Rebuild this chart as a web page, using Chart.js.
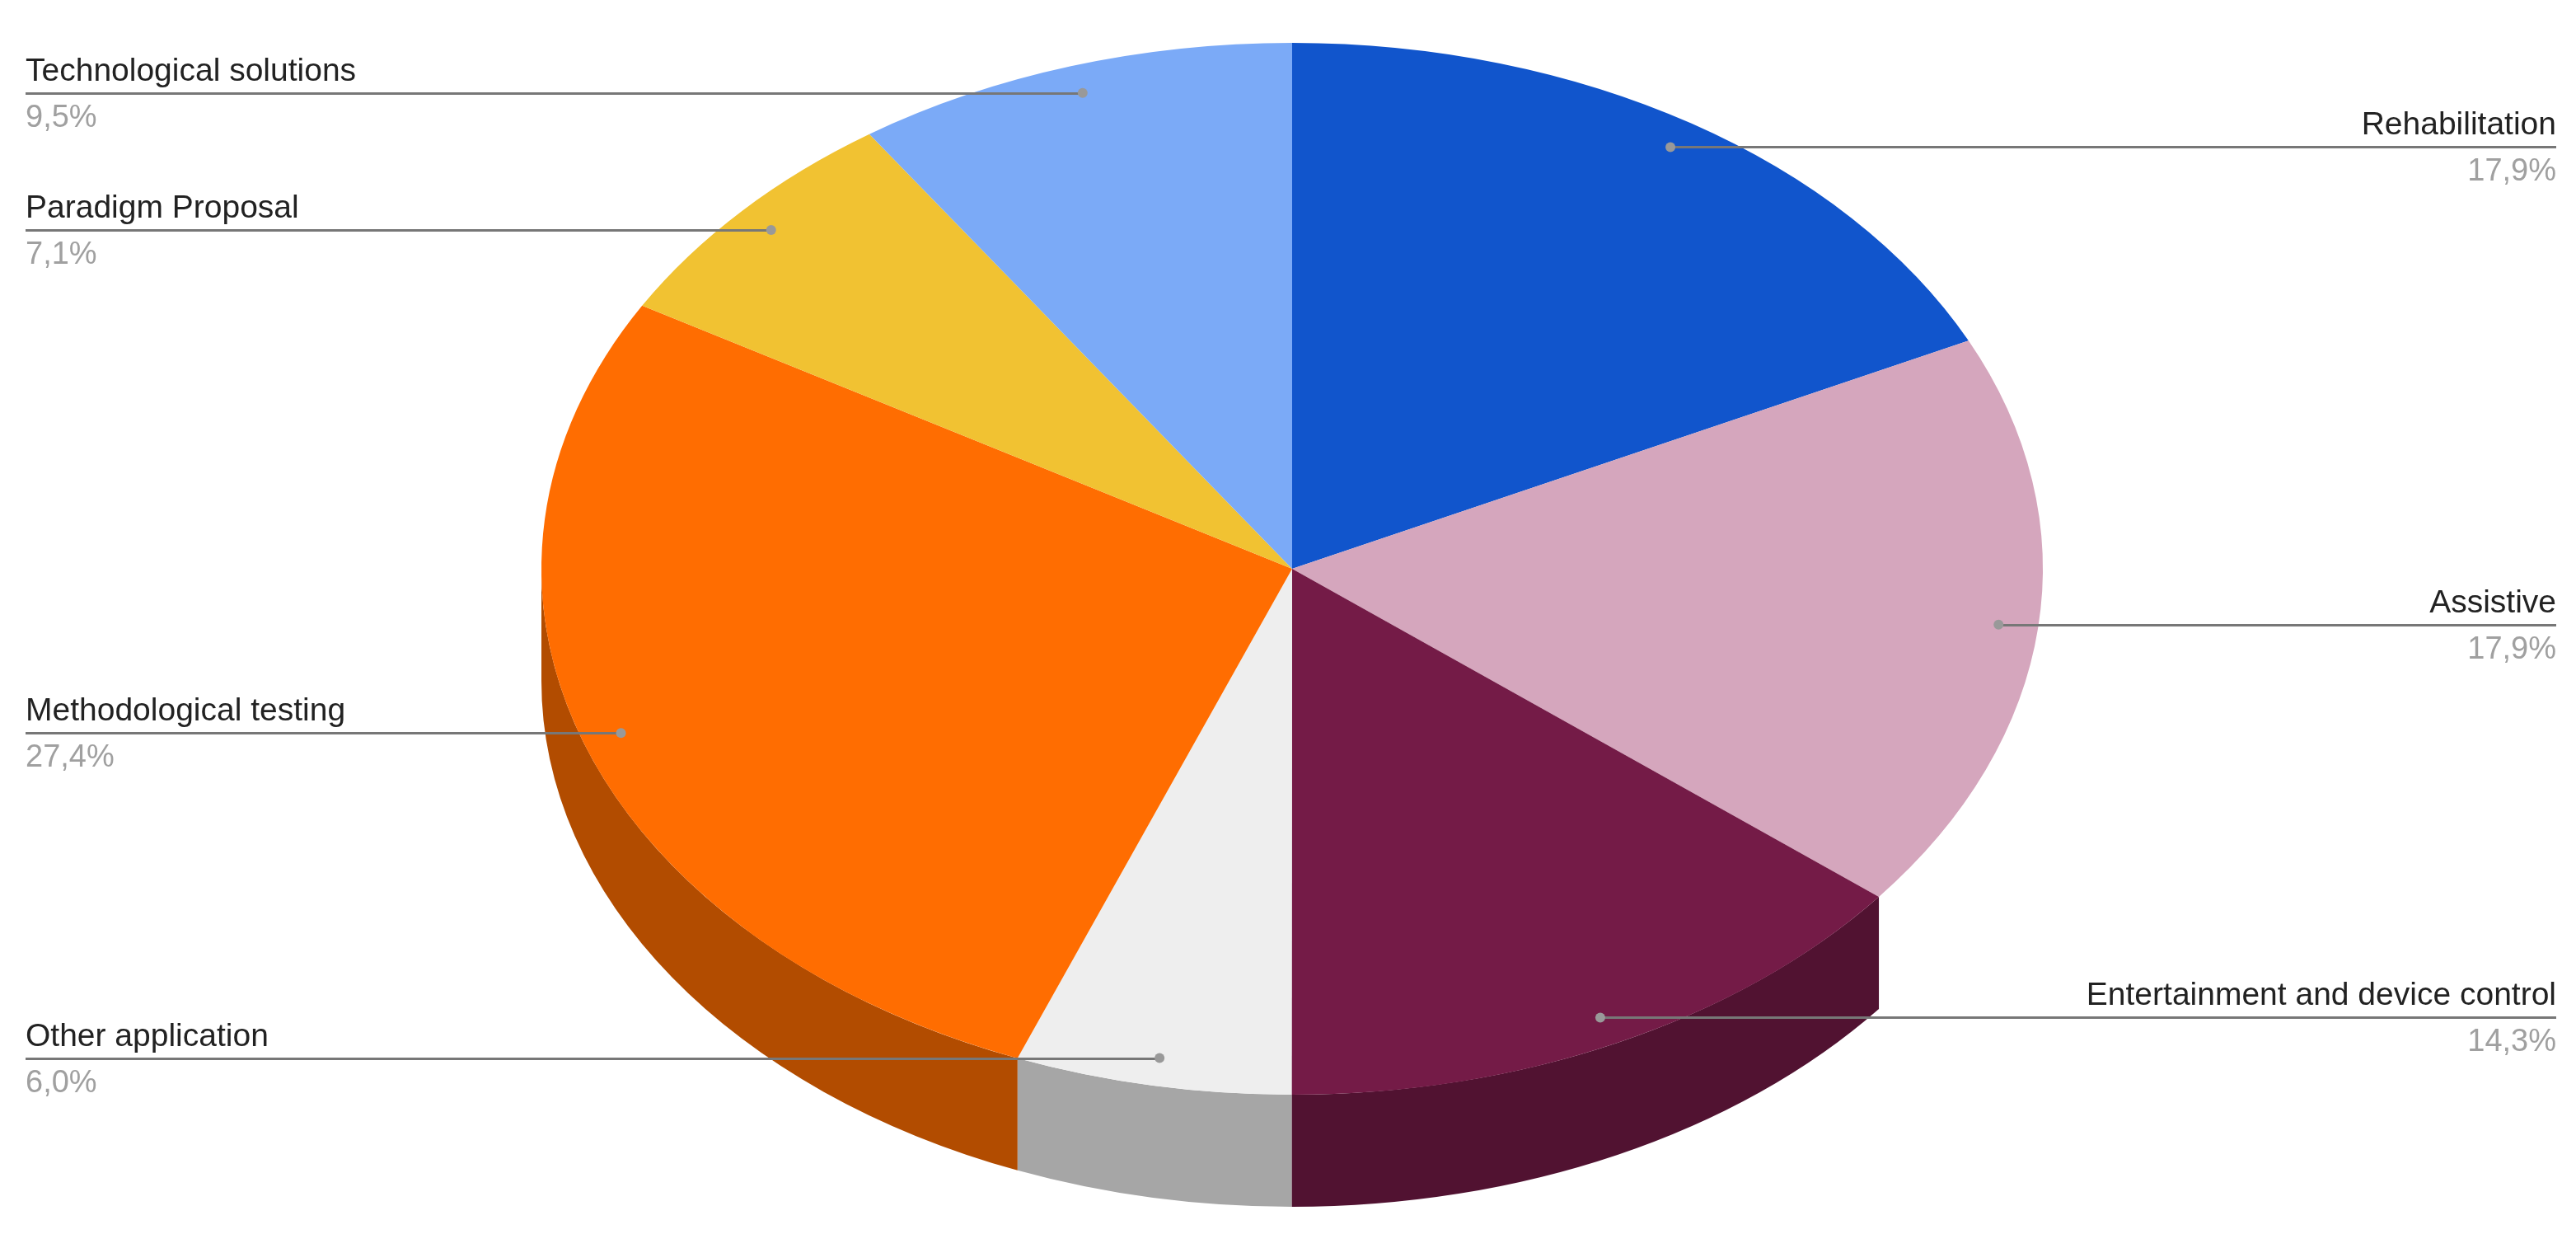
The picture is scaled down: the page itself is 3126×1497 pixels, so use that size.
<!DOCTYPE html>
<html>
<head>
<meta charset="utf-8">
<style>html,body{margin:0;padding:0;background:#fff}canvas{display:block}</style>
<script src="https://cdn.jsdelivr.net/npm/chart.js@4"></script>
</head>
<body>
<canvas id="c" width="3126" height="1497"></canvas>
<script>
const categories = ["Rehabilitation","Assistive","Entertainment and device control","Other application","Methodological testing","Paradigm Proposal","Technological solutions"];
const shares = [17.86,17.86,14.29,5.95,27.38,7.14,9.52];
const colors = ["#1155cc","#d5a6bd","#741b47","#eeeeee","#ff6d01","#f1c232","#7baaf7"];

const view = {cx:1568, cy:690, rx:911, ry:638, depth:136, dotRatio:0.947, leftX:31, rightX:3102};
const TAU = Math.PI*2;
function shade(hex){
  const n=parseInt(hex.slice(1),16);
  return `rgb(${((n>>16)&255)*.7|0},${((n>>8)&255)*.7|0},${(n&255)*.7|0})`;
}
const pie3d = {
  id:'pie3d',
  beforeDatasetsDraw(chart){
    const ctx=chart.ctx, arcs=chart.getDatasetMeta(0).data;
    arcs.forEach((a,i)=>{
      let s=a.startAngle, e=a.endAngle;
      while(s<0){s+=TAU;e+=TAU;}
      while(s>=TAU){s-=TAU;e-=TAU;}
      const from=Math.max(s,0), to=Math.min(e,Math.PI);
      if(to<=from) return;
      ctx.beginPath();
      ctx.ellipse(view.cx,view.cy,view.rx,view.ry,0,from,to,false);
      ctx.ellipse(view.cx,view.cy+view.depth,view.rx,view.ry,0,to,from,true);
      ctx.closePath();
      ctx.fillStyle=shade(colors[i]);
      ctx.fill();
    });
    const a=arcs[0];
    ctx.save();
    ctx.translate(view.cx,view.cy);
    ctx.scale(view.rx/a.outerRadius,view.ry/a.outerRadius);
    ctx.translate(-a.x,-a.y);
  },
  afterDatasetsDraw(chart){
    const ctx=chart.ctx, arcs=chart.getDatasetMeta(0).data;
    ctx.restore();
    arcs.forEach((a,i)=>{
      const mid=(a.startAngle+a.endAngle)/2;
      const px=view.cx+Math.cos(mid)*view.rx*view.dotRatio;
      const py=view.cy+Math.sin(mid)*view.ry*view.dotRatio;
      const right=Math.cos(mid)>0;
      const edge=right?view.rightX:view.leftX;
      ctx.strokeStyle='#777777'; ctx.lineWidth=3;
      ctx.beginPath(); ctx.moveTo(edge,Math.round(py)+.5); ctx.lineTo(px,Math.round(py)+.5); ctx.stroke();
      ctx.fillStyle='#999999';
      ctx.beginPath(); ctx.arc(px,py,6,0,TAU); ctx.fill();
      ctx.textAlign=right?'right':'left';
      ctx.textBaseline='alphabetic';
      ctx.font='39px "Liberation Sans", Arial, sans-serif';
      ctx.fillStyle='#222222';
      ctx.fillText(categories[i],edge,py-15);
      ctx.font='38px "Liberation Sans", Arial, sans-serif';
      ctx.fillStyle='#a0a0a0';
      ctx.fillText(shares[i].toFixed(1).replace('.',',')+'%',edge,py+41);
    });
  }
};
new Chart(document.getElementById('c'),{
  type:'pie',
  data:{labels:categories,datasets:[{data:shares,backgroundColor:colors,borderWidth:0,clip:false}]},
  options:{responsive:false,animation:false,layout:{padding:0},plugins:{legend:{display:false},tooltip:{enabled:false}}},
  plugins:[pie3d]
});
</script>
</body>
</html>
